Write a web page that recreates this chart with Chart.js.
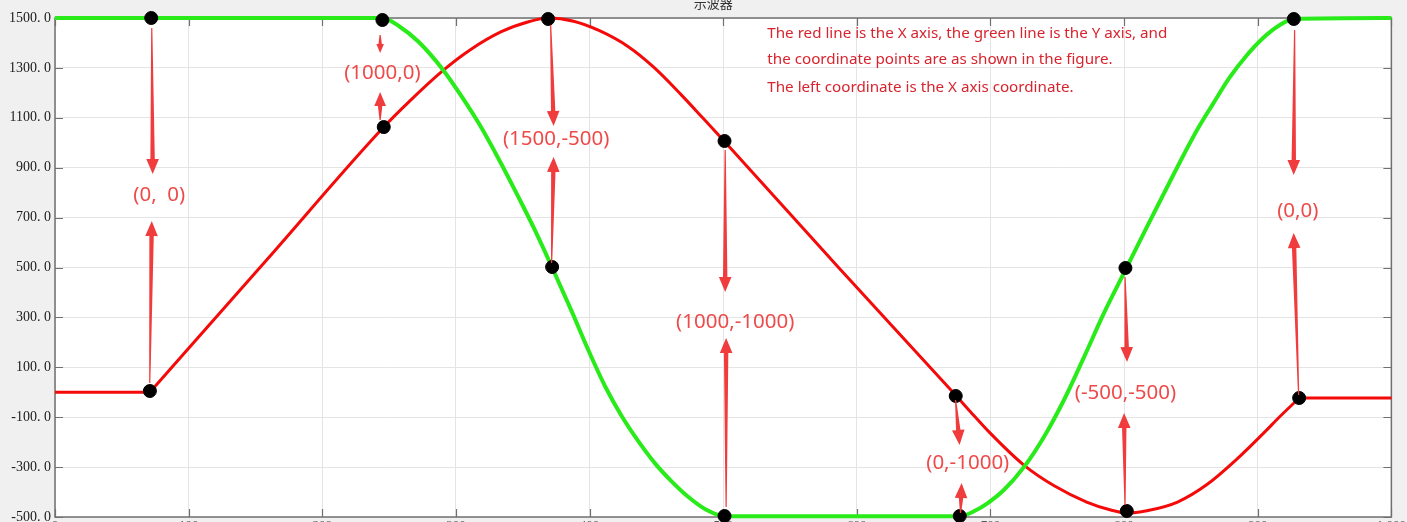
<!DOCTYPE html>
<html lang="en">

<head>
    <meta charset="UTF-8" />
    <title>示波器</title>
    <script src="https://cdn.jsdelivr.net/npm/chart.js"></script>
    <style>
        html, body { margin: 0; padding: 0; background: #f0f0f0; overflow: hidden; }
        canvas { display: block; }
    </style>
</head>

<body>
    <canvas id="grafica" width="1407" height="541"></canvas>

    <script>
        // red trace = X axis position
        const redX = [0, 71, 159, 246, 265, 290, 310, 334, 355, 369, 388, 407, 429, 448, 469, 485, 501, 587, 674, 685, 700, 725, 748, 772, 790, 802, 817, 840, 862, 884, 907, 914, 931, 1000];
        const redY = [0, 0, 534, 1063, 1165, 1288, 1370, 1445, 1486, 1500, 1487, 1450, 1385, 1303, 1190, 1098, 1005, 496, -12, -78, -165, -292, -376, -440, -472, -484, -475, -440, -370, -270, -150, -111, -23, -23];

        // green trace = Y axis position
        const greenX = [0, 245, 258, 272, 290, 305, 318, 332, 347, 360, 372, 387, 399, 412, 424, 437, 449, 461, 474, 487, 501, 677, 688, 698, 710, 725, 740, 755, 770, 785, 801, 817, 830, 842, 855, 867, 879, 892, 904, 916, 927, 1000];
        const greenY = [1500, 1500, 1465, 1405, 1295, 1180, 1070, 935, 780, 640, 500, 320, 170, 20, -95, -200, -285, -355, -420, -470, -497, -497, -476, -444, -392, -300, -179, -31, 141, 318, 490, 662, 799, 925, 1055, 1160, 1262, 1352, 1420, 1470, 1496, 1500];

        // black marked points
        const dotX = [72, 71, 245, 246, 369, 372, 501, 501, 674, 677, 801, 802, 927, 931];
        const dotY = [1500, 5, 1492, 1063, 1496, 502, 1007, -496, -15, -496, 498, -476, 1496, -23];

        const xTickValues = [0, 100, 200, 300, 400, 500, 600, 700, 800, 900, 1000];
        const yTickValues = [-500, -300, -100, 100, 300, 500, 700, 900, 1100, 1300, 1500];

        // coordinate labels
        const labelText = ['(0,  0)', '(1000,0)', '(1500,-500)', '(1000,-1000)', '(0,-1000)', '(-500,-500)', '(0,0)'];
        const labelX = [78, 245, 375, 509, 683, 801, 930];
        const labelY = [791, 1280, 1015, 282, -284, -3, 726];

        // red arrows, tail -> head
        const arrowFromX = [72.4, 70.9, 243.3, 243.3, 370.9, 371.6, 501.5, 502.2, 673.9, 677.6, 800.7, 800.7, 927.6, 930.6];
        const arrowFromY = [1460, 37, 1432, 1091, 1472, 518, 971, -460, -31, -484, 462, -452, 1452, -11];
        const arrowToX = [73.1, 72.4, 243.3, 243.3, 373.1, 373.1, 501.5, 502.2, 676.9, 678.4, 802.2, 800.0, 926.9, 926.9];
        const arrowToY = [875, 686, 1360, 1203, 1067, 943, 402, 217, -211, -364, 121, -83, 871, 638];

        const noteLines = [
            'The red line is the X axis, the green line is the Y axis, and',
            'the coordinate points are as shown in the figure.',
            'The left coordinate is the X axis coordinate.'
        ];
        const noteX = 533;
        const noteY = [1436, 1332, 1220];

        // the red trace has sharp corners where it leaves / joins the flat parts
        const redBreaks = [1, 32];

        function puntos(xs, ys, desde = 0, hasta = xs.length - 1) {
            const out = [];
            for (let i = desde; i <= hasta; i++) out.push({ x: xs[i], y: ys[i] });
            return out;
        }

        function flecha(ctx, x0, y0, x1, y1) {
            const len = Math.hypot(x1 - x0, y1 - y0);
            const ux = (x1 - x0) / len, uy = (y1 - y0) / len;
            const nx = -uy, ny = ux;
            const hl = Math.min(15, len * 0.5), hw = hl * 0.42;
            const sw = Math.min(2.2, hw * 0.45);
            const bx = x1 - ux * hl, by = y1 - uy * hl;
            ctx.beginPath();
            ctx.moveTo(x0 + nx * 0.6, y0 + ny * 0.6);
            ctx.lineTo(bx + nx * sw, by + ny * sw);
            ctx.lineTo(bx + nx * hw, by + ny * hw);
            ctx.lineTo(x1, y1);
            ctx.lineTo(bx - nx * hw, by - ny * hw);
            ctx.lineTo(bx - nx * sw, by - ny * sw);
            ctx.lineTo(x0 - nx * 0.6, y0 - ny * 0.6);
            ctx.closePath();
            ctx.fill();
        }

        const marco = {
            id: 'marco',
            beforeDraw(chart) {
                const { ctx, chartArea: a, width, height } = chart;
                ctx.save();
                ctx.fillStyle = '#f0f0f0';
                ctx.fillRect(0, 0, width, height);
                ctx.fillStyle = '#ffffff';
                ctx.fillRect(a.left, a.top, a.right - a.left, a.bottom - a.top);
                ctx.restore();
            },
            beforeDatasetsDraw(chart) {
                const { ctx, chartArea: a, scales } = chart;
                ctx.save();
                ctx.strokeStyle = '#707070';
                ctx.lineWidth = 1.5;
                ctx.strokeRect(a.left, a.top, a.right - a.left, a.bottom - a.top);
                ctx.lineWidth = 1.2;
                ctx.beginPath();
                scales.y.ticks.forEach((t, i) => {
                    const y = Math.round(scales.y.getPixelForTick(i)) + 0.5;
                    ctx.moveTo(a.left, y); ctx.lineTo(a.left + 8, y);
                    ctx.moveTo(a.right, y); ctx.lineTo(a.right - 8, y);
                });
                scales.x.ticks.forEach((t, i) => {
                    const x = Math.round(scales.x.getPixelForTick(i)) + 0.5;
                    ctx.moveTo(x, a.bottom); ctx.lineTo(x, a.bottom - 8);
                    ctx.moveTo(x, a.top); ctx.lineTo(x, a.top + 8);
                });
                ctx.stroke();
                ctx.restore();
            },
            afterDatasetsDraw(chart) {
                const { ctx, scales } = chart;
                const sx = scales.x, sy = scales.y;
                ctx.save();
                ctx.fillStyle = '#f03c3c';
                arrowFromX.forEach((v, i) => {
                    flecha(ctx, sx.getPixelForValue(v), sy.getPixelForValue(arrowFromY[i]),
                        sx.getPixelForValue(arrowToX[i]), sy.getPixelForValue(arrowToY[i]));
                });

                ctx.fillStyle = '#ee4a4a';
                ctx.font = '20.5px "Noto Sans", sans-serif';
                ctx.textAlign = 'center';
                ctx.textBaseline = 'middle';
                labelText.forEach((txt, i) => {
                    ctx.fillText(txt, sx.getPixelForValue(labelX[i]), sy.getPixelForValue(labelY[i]));
                });

                ctx.fillStyle = '#d8242e';
                ctx.font = '15.2px "Noto Sans", sans-serif';
                ctx.textAlign = 'left';
                noteLines.forEach((txt, i) => {
                    ctx.fillText(txt, sx.getPixelForValue(noteX), sy.getPixelForValue(noteY[i]));
                });
                ctx.restore();
            },
            afterDraw(chart) {
                const { ctx, chartArea: a } = chart;
                ctx.save();
                ctx.fillStyle = '#333333';
                ctx.font = '13px "Noto Sans CJK SC", sans-serif';
                ctx.textAlign = 'center';
                ctx.textBaseline = 'middle';
                ctx.fillText('示波器', (a.left + a.right) / 2 - 10, 3);
                ctx.restore();
            }
        };

        const rojo = 'rgb(245, 10, 10)';
        const verde = 'rgb(40, 235, 25)';
        const trazo = (data, color, ancho) => ({
            data,
            borderColor: color,
            borderWidth: ancho,
            pointRadius: 0,
            showLine: true,
            cubicInterpolationMode: 'monotone',
            clip: 5
        });

        const ctx = document.getElementById('grafica').getContext('2d');
        const chart = new Chart(ctx, {
            type: 'scatter',
            data: {
                datasets: [
                    {
                        label: 'puntos',
                        data: puntos(dotX, dotY),
                        backgroundColor: '#000000',
                        borderColor: '#000000',
                        pointRadius: 6.5,
                        showLine: false,
                        clip: 8
                    },
                    trazo(puntos(greenX, greenY), verde, 4),
                    trazo(puntos(redX, redY, 0, redBreaks[0]), rojo, 3),
                    trazo(puntos(redX, redY, redBreaks[0], redBreaks[1]), rojo, 3),
                    trazo(puntos(redX, redY, redBreaks[1]), rojo, 3)
                ]
            },
            options: {
                responsive: false,
                animation: false,
                devicePixelRatio: 1,
                layout: { padding: { top: 18, right: 12, left: 0, bottom: 0 } },
                plugins: {
                    legend: { display: false },
                    tooltip: { enabled: false }
                },
                scales: {
                    x: {
                        type: 'linear',
                        min: 0,
                        max: 1000,
                        afterBuildTicks: s => { s.ticks = xTickValues.map(v => ({ value: v })); },
                        afterFit: s => { s.height = 24; },
                        grid: { color: '#e4e4e4', drawTicks: false },
                        border: { display: false },
                        ticks: {
                            padding: 1,
                            color: '#555',
                            font: { family: 'Liberation Serif', size: 13 }
                        }
                    },
                    y: {
                        min: -500,
                        max: 1500,
                        afterBuildTicks: s => { s.ticks = yTickValues.map(v => ({ value: v })); },
                        afterFit: s => { s.width = 55; },
                        grid: { color: '#e4e4e4', drawTicks: false },
                        border: { display: false },
                        ticks: {
                            padding: 4,
                            color: '#1a1a1a',
                            font: { family: 'Liberation Serif', size: 14 },
                            callback: v => v.toFixed(1).replace('.', '. ')
                        }
                    }
                }
            },
            plugins: [marco]
        });
    </script>
</body>

</html>
